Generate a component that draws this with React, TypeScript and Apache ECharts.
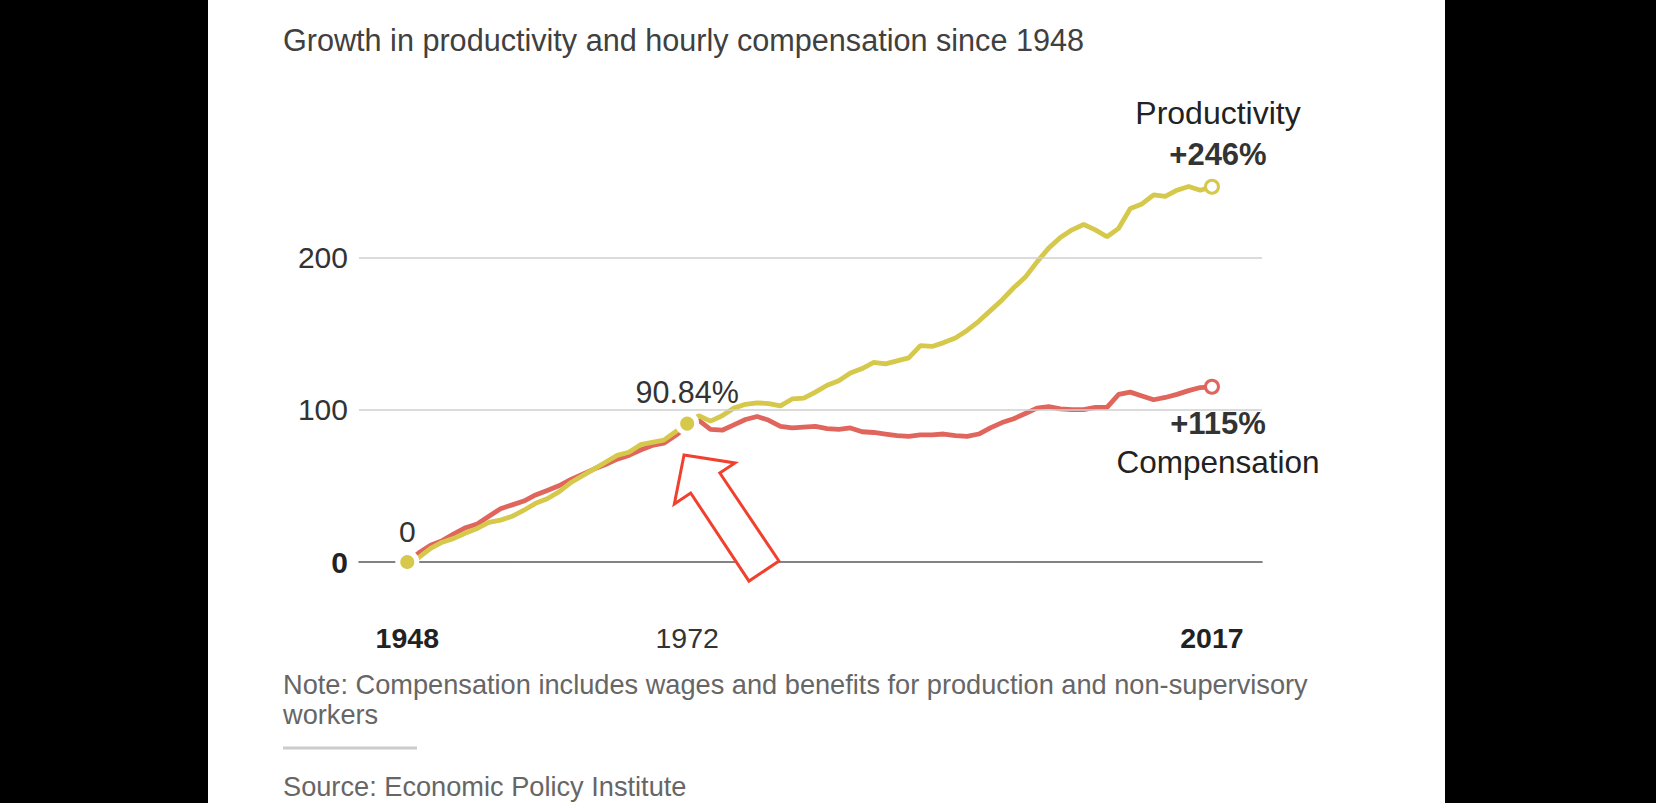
import React, { useEffect, useRef } from "react";
import * as echarts from "echarts";

const startYear = 1948;
const years: number[] = Array.from({ length: 70 }, (_, i) => startYear + i);

const productivity: number[] = [
  0, 3, 9, 13, 15.5, 19, 22, 26, 27.5, 30,
  34, 38.5, 41.5, 46, 52, 56.5, 61, 65.5, 70, 72,
  77, 78.5, 80, 85.5, 90.84, 96, 92.5, 96, 101, 103.5,
  104.5, 104, 102.5, 107, 107.5, 111.5, 116, 119, 124, 127,
  131, 130, 132, 134, 142, 141.5, 144, 147, 152, 158,
  165, 172, 180, 187, 197, 206, 213, 218, 221.5, 218,
  213.5, 219, 232, 235, 241, 240, 244, 246.5, 244, 246.3,
];

const compensation: number[] = [
  0, 6, 11, 14, 18.5, 22.5, 25, 30, 35, 37.5,
  40, 44, 47, 50, 54, 57.5, 61, 64, 67.5, 70,
  73.5, 76.5, 78, 83, 89, 93, 87, 86.5, 90, 93.5,
  95.5, 93, 89, 88, 88.5, 89, 87.5, 87, 88, 85.5,
  85, 84, 83, 82.5, 83.5, 83.5, 84, 83, 82.5, 84,
  88, 91.5, 94, 97.5, 101, 102, 100.5, 100, 100, 101.5,
  101.5, 110, 111.5, 109, 106.5, 108, 110, 112.5, 114.5, 115,
];

const yTickValues: number[] = [0, 100, 200];
const gridValues: number[] = [100, 200];
const xLabelYears: number[] = [1948, 1972, 2017];
const boldYears: number[] = [1948, 2017];
const highlightYear = 1972;

// annotation arrow outline, in data units (year, value)
const arrowYears: number[] = [1971.73, 1976.1, 1974.8, 1979.87, 1977.3, 1972.3, 1970.9];
const arrowValues: number[] = [70.2, 65.0, 58.4, 0.66, -12.5, 45.3, 38.1];

const titleText = "Growth in productivity and hourly compensation since 1948";
const noteLines: string[] = [
  "Note: Compensation includes wages and benefits for production and non-supervisory",
  "workers",
];
const sourceText = "Source: Economic Policy Institute";

const YEL = "#d5c84b";
const RED = "#e0655c";
const FONT = "'Liberation Sans', Arial, sans-serif";

export default function App() {
  const ref = useRef<HTMLDivElement>(null);

  useEffect(() => {
    if (!ref.current) return;
    const chart = echarts.init(ref.current, undefined, { renderer: "svg" });
    const last = years.length - 1;
    const hiIdx = years.indexOf(highlightYear);
    const prodData = years.map((y, i) => [y, productivity[i]]);
    const compData = years.map((y, i) => [y, compensation[i]]);

    chart.setOption({
      animation: false,
      backgroundColor: "transparent",
      textStyle: { fontFamily: FONT },
      grid: { left: 359, right: 394, top: 181.1, bottom: 241, containLabel: false },
      xAxis: {
        type: "value",
        min: 1943.86,
        max: 2021.29,
        axisLine: { show: true, lineStyle: { color: "#5a5a5a", width: 1.6 } },
        axisTick: { show: false },
        splitLine: { show: false },
        axisLabel: {
          customValues: xLabelYears,
          margin: 61,
          fontFamily: FONT,
          formatter: (v: number) => (boldYears.includes(v) ? `{b|${v}}` : `{r|${v}}`),
          rich: {
            b: { fontSize: 28.5, fontWeight: "bold", color: "#222", fontFamily: FONT },
            r: { fontSize: 28.5, color: "#333", fontFamily: FONT },
          },
        },
      },
      yAxis: {
        type: "value",
        min: 0,
        max: 250,
        axisLine: { show: false },
        axisTick: { show: false },
        splitLine: { show: false },
        axisLabel: {
          customValues: yTickValues,
          margin: 11,
          fontFamily: FONT,
          formatter: (v: number) => (v === 0 ? `{b|${v}}` : `{r|${v}}`),
          rich: {
            b: { fontSize: 30, fontWeight: "bold", color: "#222", fontFamily: FONT },
            r: { fontSize: 30, color: "#333", fontFamily: FONT },
          },
        },
      },
      series: [
        {
          type: "line",
          data: [],
          z: 1,
          silent: true,
          markLine: {
            silent: true,
            symbol: "none",
            label: { show: false },
            lineStyle: { color: "#cfcfcf", type: "solid", width: 1.5 },
            data: gridValues.map((v) => ({ yAxis: v })),
          },
        },
        {
          type: "line",
          name: "Compensation",
          data: compData,
          showSymbol: false,
          z: 2,
          lineStyle: { color: RED, width: 4.8 },
          itemStyle: { color: RED },
        },
        {
          type: "line",
          name: "Productivity",
          data: prodData,
          showSymbol: false,
          z: 3,
          lineStyle: { color: YEL, width: 4.8 },
          itemStyle: { color: YEL },
        },
        {
          type: "scatter",
          z: 5,
          data: [prodData[0]],
          symbolSize: 19,
          itemStyle: { color: YEL, borderColor: "#fff", borderWidth: 5, opacity: 1 },
          label: {
            show: true,
            position: "top",
            distance: 4,
            fontSize: 30,
            color: "#333",
            fontFamily: FONT,
            formatter: (p: any) => `${p.value[1]}`,
          },
        },
        {
          type: "scatter",
          z: 5,
          data: [prodData[hiIdx]],
          symbolSize: 19,
          itemStyle: { color: YEL, borderColor: "#fff", borderWidth: 5, opacity: 1 },
          label: {
            show: true,
            position: "top",
            distance: 4,
            fontSize: 30.5,
            color: "#333",
            fontFamily: FONT,
            formatter: (p: any) => `${p.value[1]}%`,
          },
        },
        {
          type: "scatter",
          z: 5,
          data: [prodData[last]],
          symbolSize: 13,
          itemStyle: { color: "#fff", borderColor: YEL, borderWidth: 3, opacity: 1 },
          label: {
            show: true,
            position: "top",
            distance: 3,
            offset: [6, 0],
            align: "center",
            fontFamily: FONT,
            formatter: (p: any) => `{a|Productivity}\n{b|+${Math.round(p.value[1])}%}`,
            rich: {
              a: { fontSize: 32, color: "#222", lineHeight: 42, fontFamily: FONT, align: "center" },
              b: { fontSize: 31, fontWeight: "bold", color: "#333", lineHeight: 42, fontFamily: FONT, align: "center" },
            },
          },
        },
        {
          type: "scatter",
          z: 5,
          data: [compData[last]],
          symbolSize: 13,
          itemStyle: { color: "#fff", borderColor: RED, borderWidth: 3, opacity: 1 },
          label: {
            show: true,
            position: "bottom",
            distance: 9,
            offset: [6, 0],
            align: "center",
            fontFamily: FONT,
            formatter: (p: any) => `{b|+${Math.round(p.value[1])}%}\n{a|Compensation}`,
            rich: {
              a: { fontSize: 31.5, color: "#222", lineHeight: 39, fontFamily: FONT, align: "center" },
              b: { fontSize: 31, fontWeight: "bold", color: "#333", lineHeight: 39, fontFamily: FONT, align: "center" },
            },
          },
        },
      ],
    });

    const arrowPts = arrowYears.map((y, i) =>
      chart.convertToPixel({ gridIndex: 0 }, [y, arrowValues[i]]) as number[]
    );

    chart.setOption({
      graphic: [
        {
          type: "polygon",
          z: 10,
          shape: { points: arrowPts },
          style: { fill: "#fff", stroke: "#f2402e", lineWidth: 3, lineJoin: "miter" },
        },
        {
          type: "text",
          x: 283,
          y: 40,
          style: {
            text: titleText,
            font: `30.6px ${FONT}`,
            fill: "#404040",
            verticalAlign: "middle",
          },
        },
        {
          type: "text",
          x: 283,
          y: 684,
          style: { text: noteLines[0], font: `27.2px ${FONT}`, fill: "#666", verticalAlign: "middle" },
        },
        {
          type: "text",
          x: 283,
          y: 714,
          style: { text: noteLines[1], font: `27.2px ${FONT}`, fill: "#666", verticalAlign: "middle" },
        },
        {
          type: "rect",
          shape: { x: 283, y: 746.5, width: 134, height: 3 },
          style: { fill: "#cccccc" },
        },
        {
          type: "text",
          x: 283,
          y: 786,
          style: { text: sourceText, font: `27.2px ${FONT}`, fill: "#666", verticalAlign: "middle" },
        },
      ],
    });

    return () => chart.dispose();
  }, []);

  return (
    <div style={{ position: "fixed", left: 0, top: 0, width: 1656, height: 803, background: "#000", overflow: "hidden" }}>
      <div style={{ position: "absolute", left: 208, top: 0, width: 1237, height: 803, background: "#fff" }} />
      <div ref={ref} style={{ position: "absolute", left: 0, top: 0, width: 1656, height: 803 }} />
    </div>
  );
}
